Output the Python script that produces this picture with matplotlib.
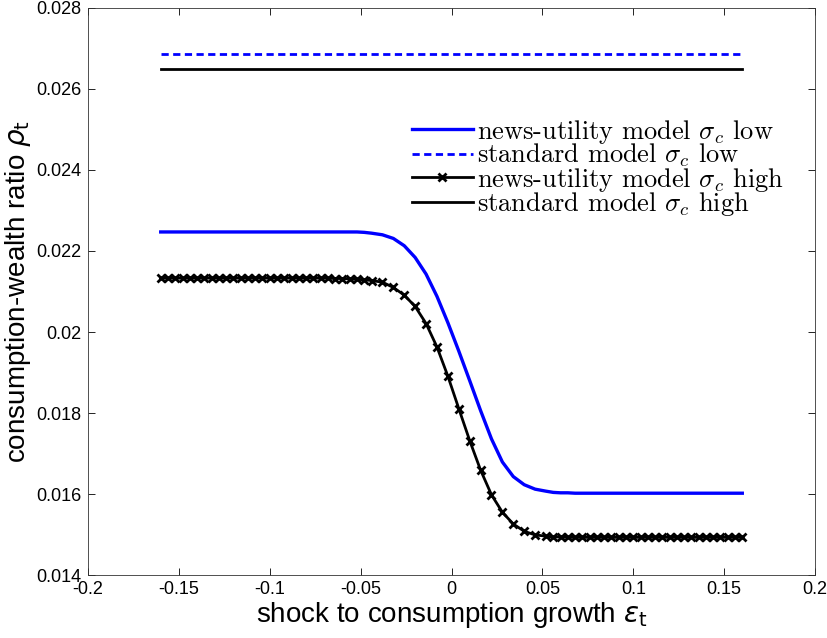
import numpy as np
import matplotlib
matplotlib.use("Agg")
import matplotlib.pyplot as plt
from matplotlib.font_manager import FontProperties

# shock grid
eps = [-0.160, -0.156, -0.152, -0.148, -0.144, -0.140, -0.136, -0.132, -0.128, -0.124,
       -0.120, -0.116, -0.112, -0.108, -0.104, -0.100, -0.096, -0.092, -0.088, -0.084,
       -0.080, -0.076, -0.072, -0.068, -0.064, -0.060, -0.056, -0.052, -0.048, -0.044,
       -0.038, -0.032, -0.026, -0.020, -0.014, -0.008, -0.002, 0.004, 0.010, 0.016,
       0.022, 0.028, 0.034, 0.040, 0.046, 0.052,
       0.056, 0.060, 0.064, 0.068, 0.072, 0.076, 0.080, 0.084, 0.088, 0.092,
       0.096, 0.100, 0.104, 0.108, 0.112, 0.116, 0.120, 0.124, 0.128, 0.132,
       0.136, 0.140, 0.144, 0.148, 0.152, 0.156, 0.160]

# news-utility model, sigma_c low (blue solid)
news_low = [0.02247] * 28 + [0.02246, 0.02244,
            0.02240, 0.02231, 0.02213, 0.02184, 0.02143, 0.02088, 0.02023, 0.01953,
            0.01880, 0.01806, 0.01736, 0.01679, 0.01643, 0.01623, 0.01612, 0.01607,
            0.01604, 0.01603, 0.01603, 0.01602] + [0.01602] * 23

# news-utility model, sigma_c high (black with x markers)
news_high = [0.02133] * 24 + [0.02132, 0.02132, 0.02131, 0.02130, 0.02129, 0.02127,
             0.02123, 0.02110, 0.02091, 0.02063, 0.02021, 0.01963, 0.01891, 0.01811,
             0.01732, 0.01659, 0.01598, 0.01555, 0.01526, 0.01508, 0.01499, 0.01496,
             0.01494, 0.01494, 0.01493] + [0.01493] * 24

# standard model levels
std_low = 0.02686
std_high = 0.02650

xticks = [-0.2, -0.15, -0.1, -0.05, 0, 0.05, 0.1, 0.15, 0.2]
xticklabels = ["-0.2", "-0.15", "-0.1", "-0.05", "0", "0.05", "0.1", "0.15", "0.2"]
yticks = [0.014, 0.016, 0.018, 0.020, 0.022, 0.024, 0.026, 0.028]
yticklabels = ["0.014", "0.016", "0.018", "0.02", "0.022", "0.024", "0.026", "0.028"]

plt.rcParams["mathtext.fontset"] = "cm"
sans = "Liberation Sans"

fig = plt.figure(figsize=(8.28, 6.38), dpi=100)
ax = fig.add_axes([0.1063, 0.0987, 0.8780, 0.8888])

x = np.array(eps)
ax.plot(x, news_low, color="#0000ff", lw=2.4, label=r"news-utility model $\sigma_c$ low")
ax.plot(x, [std_low] * len(x), color="#0000ff", lw=2.0, ls=(0, (2.6, 1.6)),
        label=r"standard model $\sigma_c$ low")
ax.plot(x, news_high, color="black", lw=2.0, marker="x", ms=6, mew=2.0,
        label=r"news-utility model $\sigma_c$ high")
ax.plot(x, [std_high] * len(x), color="black", lw=2.0, label=r"standard model $\sigma_c$ high")

ax.set_xlim(-0.2, 0.2)
ax.set_ylim(0.014, 0.028)
ax.set_xticks(xticks)
ax.set_xticklabels(xticklabels, fontfamily=sans, fontsize=13)
ax.set_yticks(yticks)
ax.set_yticklabels(yticklabels, fontfamily=sans, fontsize=13)
ax.tick_params(direction="in", length=5, width=0.6, top=True, right=True)
ax.tick_params(axis="y", pad=5)
ax.tick_params(axis="x", pad=4)
for s in ax.spines.values():
    s.set_linewidth(0.6)
    s.set_color("#333333")

ax.set_xlabel(r"shock to consumption growth $\varepsilon_\mathrm{t}$", fontfamily=sans,
              fontsize=20, math_fontfamily="dejavusans", labelpad=2)
ax.set_ylabel(r"consumption-wealth ratio $\rho_\mathrm{t}$", fontfamily=sans,
              fontsize=20, math_fontfamily="dejavusans", labelpad=2)

leg = ax.legend(loc="upper right", bbox_to_anchor=(0.975, 0.830), frameon=False,
                prop=FontProperties(family="cmr10", size=19), handlelength=2.3,
                handletextpad=0.15, labelspacing=-0.14, borderpad=0)

fig.savefig("out.png", dpi=100)
